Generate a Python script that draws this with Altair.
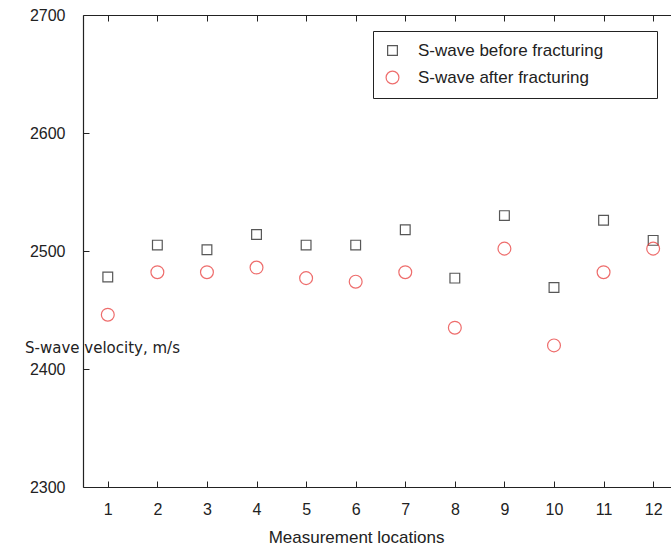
import altair as alt
import pandas as pd

locations = list(range(1, 13))
before = [2478, 2505, 2501, 2514, 2505, 2505, 2518, 2477, 2530, 2469, 2526, 2509]
after = [2446, 2482, 2482, 2486, 2477, 2474, 2482, 2435, 2502, 2420, 2482, 2502]
series_names = ["S-wave before fracturing", "S-wave after fracturing"]
x_ticks = list(range(1, 13))
y_ticks = [2300, 2400, 2500, 2600, 2700]

df = pd.DataFrame({
    "loc": locations * 2,
    "v": before + after,
    "series": [series_names[0]] * len(before) + [series_names[1]] * len(after),
})

FONT = "Liberation Sans"
INK = "#222222"
xscale = alt.Scale(domain=[0.5, 12.36], nice=False, zero=False)
yscale = alt.Scale(domain=[2300, 2700], nice=False, zero=False)

shape_scale = alt.Scale(domain=series_names, range=["square", "circle"])
color_scale = alt.Scale(domain=series_names, range=["#111111", "#e8302f"])
size_scale = alt.Scale(domain=series_names, range=[95, 165])

# trailing en spaces kept (not trimmed) thanks to a final zero-width space
pad = "\u2002" * 5 + "\u200b"
legend = alt.Legend(
    title=None, orient="none", legendX=290, legendY=16,
    labelFont=FONT, labelFontSize=17, labelColor=INK, labelLimit=600,
    symbolSize=130, symbolStrokeWidth=1.2, symbolFillColor="transparent",
    padding=11, rowPadding=9, labelOffset=17,
    strokeColor=INK, fillColor="white", cornerRadius=0,
    labelExpr="datum.label + '" + pad + "'",
)

points = alt.Chart(df).mark_point(filled=False, strokeWidth=1.2).encode(
    x=alt.X("loc:Q", scale=xscale, axis=alt.Axis(
        orient="bottom", values=x_ticks, ticks=False, tickSize=0, domain=True,
        labelPadding=14, title="Measurement locations", titleX=273, titleY=55,
        titleAlign="center", titleBaseline="alphabetic", titleFont=FONT,
        titleFontSize=17, titleFontWeight="normal", titleColor=INK)),
    y=alt.Y("v:Q", scale=yscale, axis=alt.Axis(
        orient="left", values=y_ticks, format="d", ticks=False, tickSize=0,
        domain=True, labelPadding=18, title="S-wave velocity, m/s", titleAngle=0,
        titleX=19, titleY=332, titleAlign="center", titleBaseline="middle",
        titleFont="DejaVu Sans", titleFontSize=15, titleFontWeight="normal",
        titleColor=INK)),
    shape=alt.Shape("series:N", scale=shape_scale, legend=legend),
    color=alt.Color("series:N", scale=color_scale, legend=legend),
    size=alt.Size("series:N", scale=size_scale, legend=None),
)

ticks_in = alt.Chart(df).mark_point(opacity=0).encode(
    x=alt.X("loc:Q", scale=xscale, axis=alt.Axis(
        orient="bottom", values=x_ticks, ticks=True, tickSize=6, offset=-6,
        domain=False, labels=False, title=None)),
    y=alt.Y("v:Q", scale=yscale, axis=alt.Axis(
        orient="left", values=y_ticks, ticks=True, tickSize=6, offset=-6,
        domain=False, labels=False, title=None)),
)

top_domain = alt.Chart(df).mark_point(opacity=0).encode(
    x=alt.X("loc:Q", scale=xscale, axis=alt.Axis(
        orient="top", values=x_ticks, ticks=False, tickSize=0, domain=True,
        labels=False, title=None)),
    y=alt.Y("v:Q", scale=yscale, axis=None),
)

top_ticks = alt.Chart(df).mark_point(opacity=0).encode(
    x=alt.X("loc:Q", scale=xscale, axis=alt.Axis(
        orient="top", values=x_ticks, ticks=True, tickSize=6, offset=-6,
        domain=False, labels=False, title=None)),
    y=alt.Y("v:Q", scale=yscale, axis=None),
)

chart = alt.layer(points, ticks_in, top_domain, top_ticks).resolve_axis(
    x="independent", y="independent"
).properties(
    width=588, height=472,
    autosize=alt.AutoSizeParams(type="none"),
    padding={"left": 83, "top": 15, "right": 0, "bottom": 63},
    background="white",
).configure_view(stroke=None).configure_axis(
    grid=False, labelFont=FONT, labelFontSize=16, labelColor=INK,
    domainColor=INK, tickColor=INK, domainWidth=1.2, tickWidth=1,
)

chart.save("out.html", embed_options={"renderer": "svg", "actions": False})
